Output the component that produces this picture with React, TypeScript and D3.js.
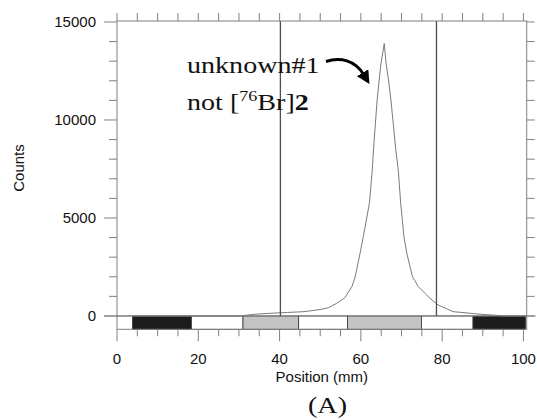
import React from "react";
import * as d3 from "d3";

// Chromatogram trace (position in mm, counts)
const positions = [0, 30, 31, 34, 38, 42, 46, 50, 52, 54, 56, 57.8, 58.6, 59.8, 60.6, 62.1, 62.8, 63.1, 64.0, 64.5, 64.95, 65.76, 66.2, 66.8, 67.4, 68.6, 69.2, 69.8, 70.6, 71.3, 72.7, 73.3, 74.1, 76.2, 77.0, 79.0, 82.7, 86.8, 90, 93, 95, 100.8];
const counts = [0, 0, 20, 90, 140, 180, 220, 330, 420, 640, 920, 1500, 2000, 3200, 4050, 5750, 7450, 8470, 11020, 12040, 12890, 13900, 12890, 12040, 11020, 8470, 7450, 5750, 4050, 3200, 2000, 1800, 1500, 1070, 900, 560, 220, 140, 80, 40, 0, 0];

// TLC plate strip
const stripEdges = [0, 3.8, 18.3, 31, 44.7, 56.7, 74.9, 87.6, 100.5];
const stripFills = ["#ffffff", "#1c1c1c", "#ffffff", "#c4c4c4", "#ffffff", "#c4c4c4", "#ffffff", "#1c1c1c"];

// Region markers
const markers = [40.2, 78.6];

const xTicks = [0, 20, 40, 60, 80, 100];
const yTicks = [0, 5000, 10000, 15000];

const W = 537;
const H = 420;

export default function App() {
  const x = d3.scaleLinear().domain([0, 100.8]).range([117, 526.7]);
  const y = d3.scaleLinear().domain([-680, 15050]).range([329.3, 21]);
  const [x0, x1] = x.range();
  const [yb, yt] = y.range();
  const axisColor = "#808080";

  const line = d3
    .line<number>()
    .x((_, i) => x(positions[i]))
    .y((d) => y(d));

  const xMinor = d3.range(0, 101, 5);
  const yMinor = d3.range(0, 15001, 1000);

  const sans = "Liberation Sans, Arial, sans-serif";
  const serif = "Liberation Serif, Times New Roman, serif";

  return (
    <svg width={W} height={H} style={{ position: "absolute", left: 0, top: 0 }} xmlns="http://www.w3.org/2000/svg">
      <defs>
        <marker id="ah" viewBox="0 0 10 10" refX="2" refY="5" markerWidth="4.4" markerHeight="4.4" orient="auto" markerUnits="strokeWidth">
          <path d="M0,0 L10,5 L0,10 z" fill="#000" />
        </marker>
      </defs>
      <rect x={0} y={0} width={W} height={H} fill="#fff" />

      {/* strip */}
      {stripFills.map((f, i) => (
        <rect
          key={"s" + i}
          x={x(stripEdges[i])}
          y={y(0)}
          width={x(stripEdges[i + 1]) - x(stripEdges[i])}
          height={yb - y(0)}
          fill={f}
          stroke={i === 0 ? "none" : "#333"}
          strokeWidth={0.8}
        />
      ))}

      {/* zero line extending as ticks */}
      <line x1={x0 - 13} x2={x1 + 9} y1={y(0)} y2={y(0)} stroke={axisColor} strokeWidth={1} />

      {/* trace */}
      <path d={line(counts) || ""} fill="none" stroke="#7a7a7a" strokeWidth={1} />

      {/* markers */}
      {markers.map((m, i) => (
        <line key={"m" + i} x1={x(m)} x2={x(m)} y1={yt} y2={y(0)} stroke="#4d4d4d" strokeWidth={1.3} />
      ))}

      {/* frame */}
      <rect x={x0} y={yt} width={x1 - x0} height={yb - yt} fill="none" stroke={axisColor} strokeWidth={1} />

      {/* bottom ticks */}
      {xMinor.map((t) => (
        <line key={"bx" + t} x1={x(t)} x2={x(t)} y1={yb} y2={yb + (t % 20 === 0 ? 12 : 7)} stroke={axisColor} strokeWidth={1} />
      ))}
      {/* top ticks */}
      {xMinor.map((t) => (
        <line key={"tx" + t} x1={x(t)} x2={x(t)} y1={yt} y2={yt - 8} stroke={axisColor} strokeWidth={1} />
      ))}
      {/* left ticks */}
      {yMinor.map((t) => (
        <line key={"ly" + t} x1={x0} x2={x0 - (t % 5000 === 0 ? 13 : 8)} y1={y(t)} y2={y(t)} stroke={axisColor} strokeWidth={1} />
      ))}
      {/* right ticks */}
      {yMinor.map((t) => (
        <line key={"ry" + t} x1={x1} x2={x1 + 8} y1={y(t)} y2={y(t)} stroke={axisColor} strokeWidth={1} />
      ))}

      {/* tick labels */}
      {xTicks.map((t) => (
        <text key={"xl" + t} x={x(t)} y={363.5} textAnchor="middle" fontFamily={sans} fontSize={15} fill="#111">
          {t}
        </text>
      ))}
      {yTicks.map((t) => (
        <text key={"yl" + t} x={96} y={y(t)} dy="0.36em" textAnchor="end" fontFamily={sans} fontSize={15} fill="#111">
          {t}
        </text>
      ))}

      {/* axis titles */}
      <text x={(x0 + x1) / 2} y={382} textAnchor="middle" fontFamily={sans} fontSize={15} fill="#111">
        Position (mm)
      </text>
      <text transform={`translate(24,168) rotate(-90)`} textAnchor="middle" fontFamily={sans} fontSize={15} fill="#111">
        Counts
      </text>

      {/* annotation */}
      <g fontFamily={serif} fontSize={24} fill="#111">
        <text transform="translate(187,73.3) scale(1.17,1)">unknown#1</text>
        <text transform="translate(187,110) scale(1.17,1)">
          not [<tspan fontSize={15.5} dy={-9}>76</tspan>
          <tspan dy={9}>Br]</tspan>
          <tspan fontWeight="bold">2</tspan>
        </text>
        <text transform="translate(327.5,412.5) scale(1.17,1)" textAnchor="middle">(A)</text>
      </g>
      <path d="M326,61.5 C340,57 355,60 364,75" fill="none" stroke="#000" strokeWidth={3} markerEnd="url(#ah)" />
    </svg>
  );
}
